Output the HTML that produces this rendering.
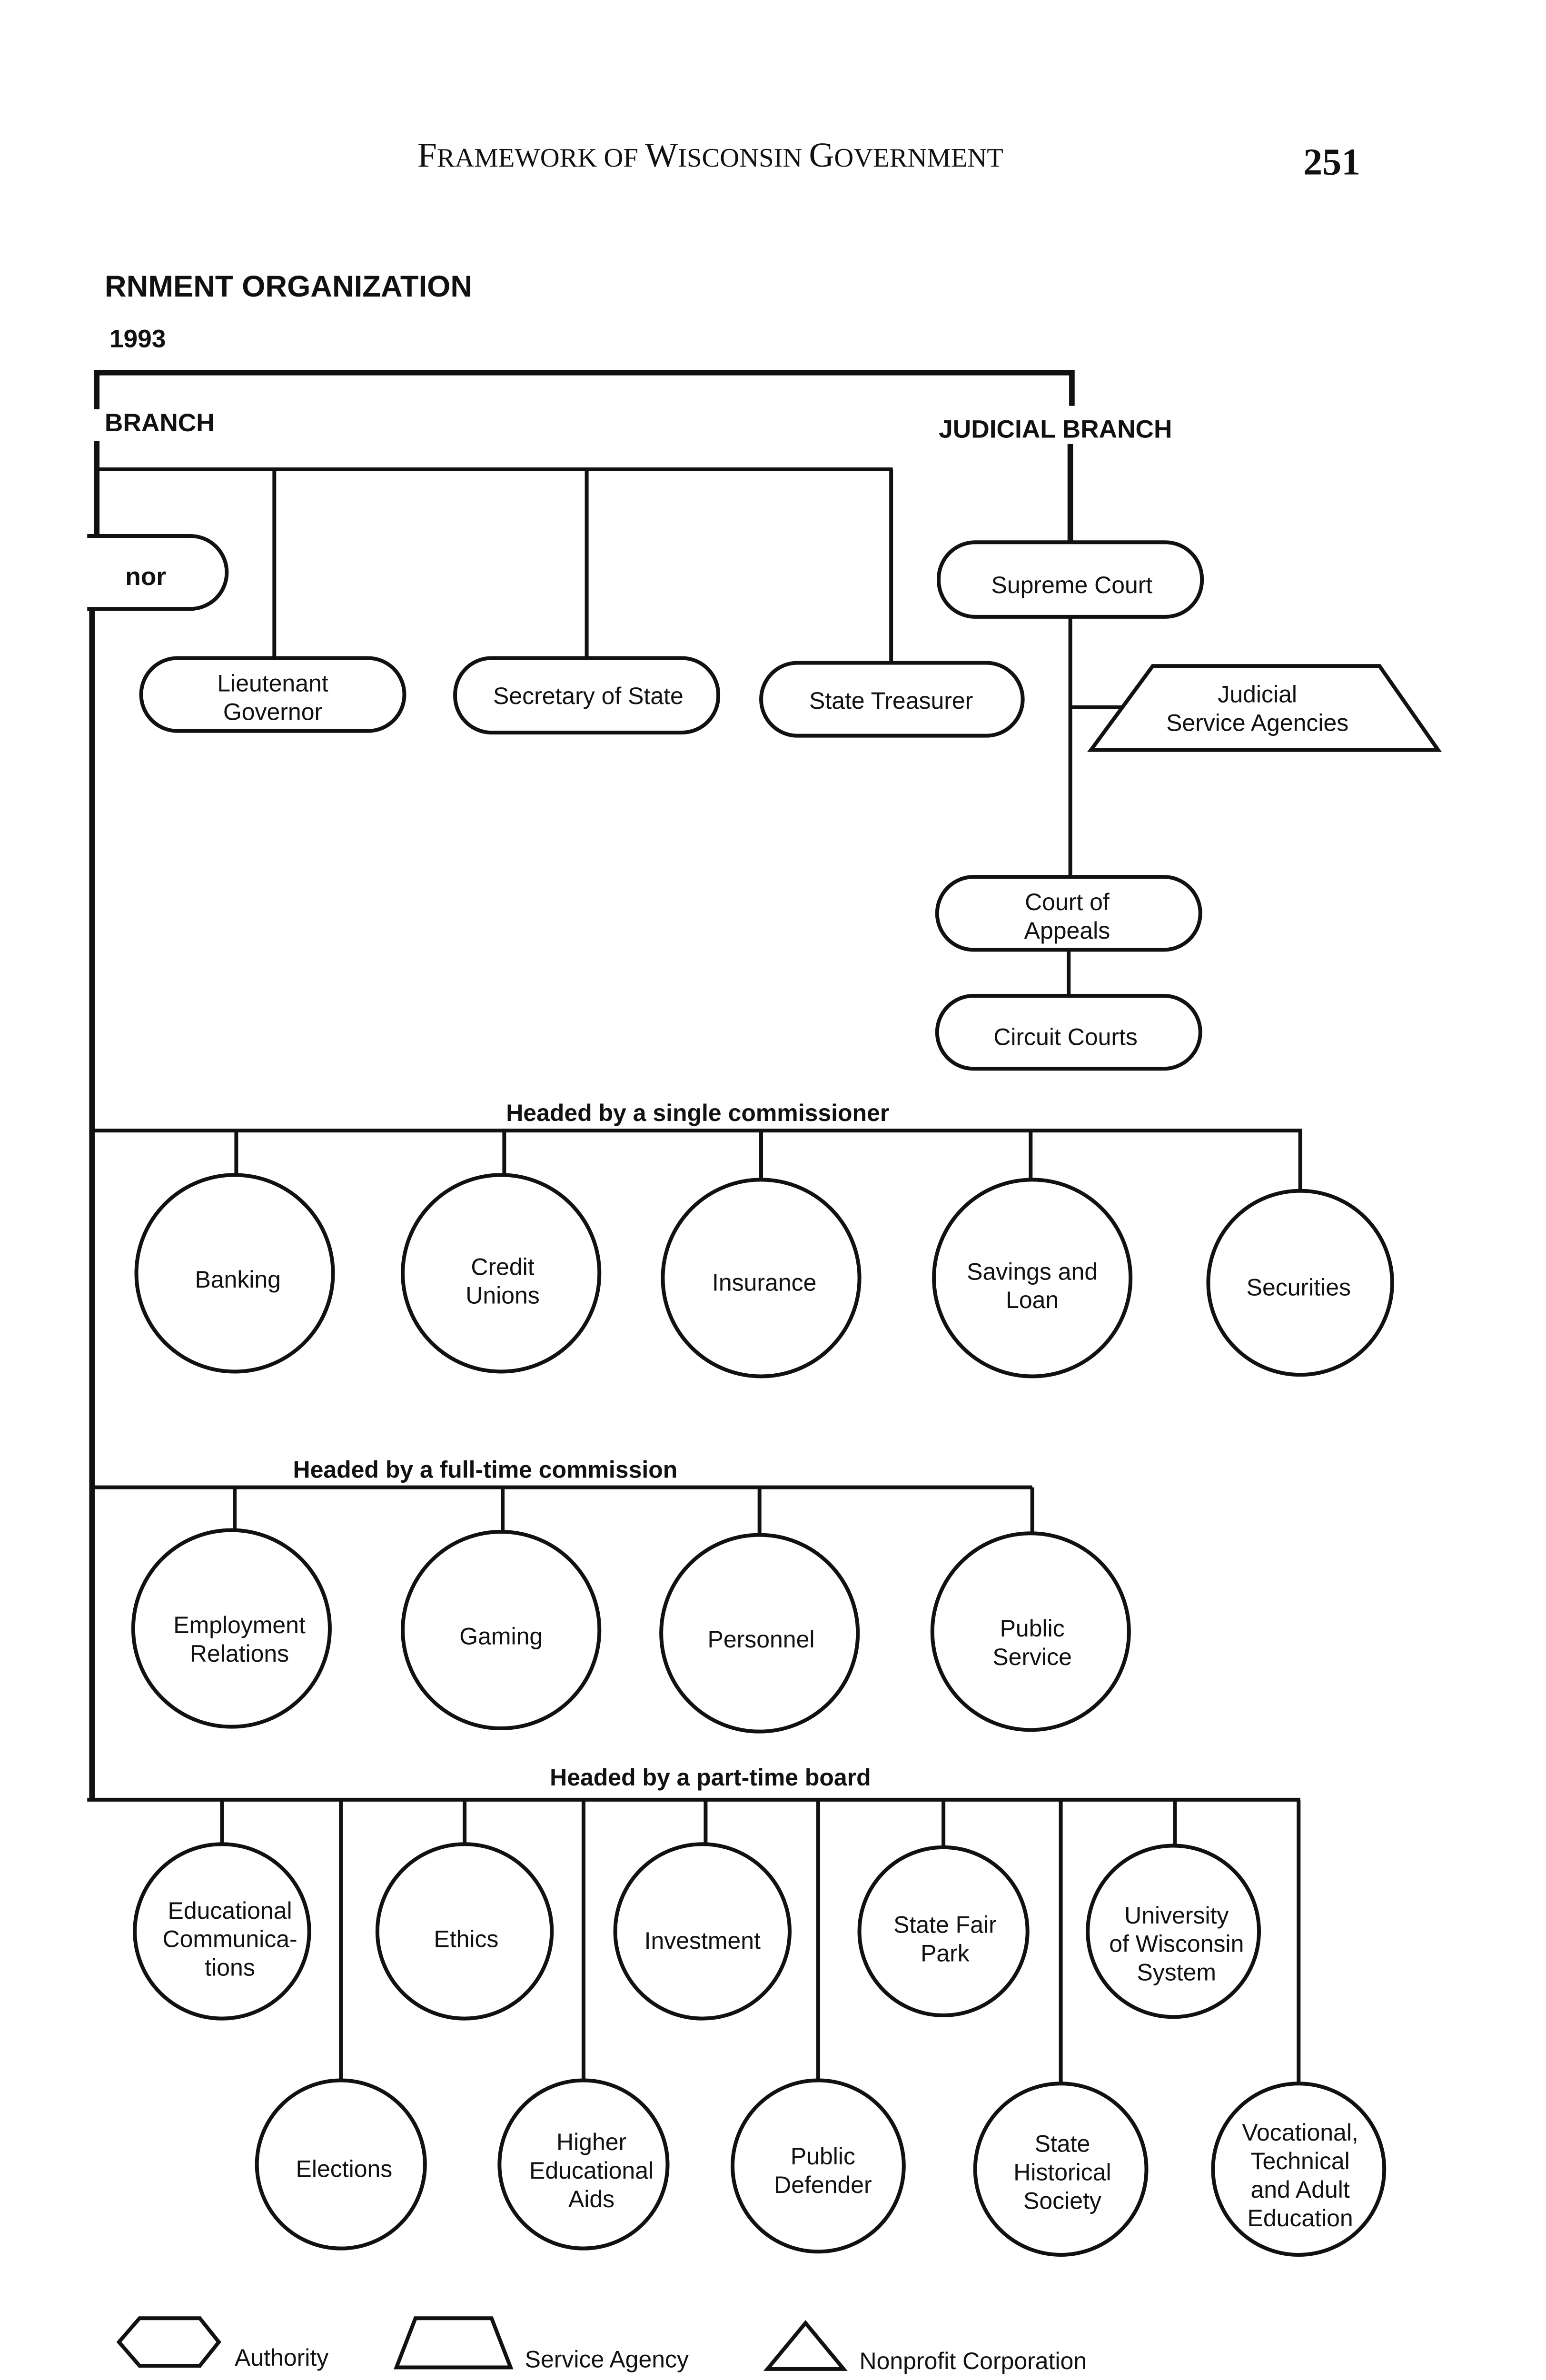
<!DOCTYPE html>
<html><head><meta charset="utf-8"><style>
html,body{margin:0;padding:0;background:#fff;width:3248px;height:5220px;overflow:hidden}
svg{display:block}
text{font-family:"Liberation Sans",sans-serif;fill:#111}
</style></head><body>
<svg width="3248" height="5220" viewBox="0 0 975 1567" xmlns="http://www.w3.org/2000/svg">
<rect width="975" height="1567" fill="#fff"/>
<text x="448" y="105" text-anchor="middle" style="font-family:'Liberation Serif',serif" font-size="22">F<tspan font-size="17">RAMEWORK OF </tspan>W<tspan font-size="17">ISCONSIN </tspan>G<tspan font-size="17">OVERNMENT</tspan></text>
<text x="840" y="110" text-anchor="middle" style="font-family:'Liberation Serif',serif" font-size="24" font-weight="bold">251</text>
<text x="66" y="187" font-size="19" font-weight="bold">RNMENT ORGANIZATION</text>
<text x="69" y="219" font-size="16" font-weight="bold">1993</text>
<text x="66" y="272" font-size="16" font-weight="bold">BRANCH</text>
<text x="592" y="276" font-size="16" font-weight="bold">JUDICIAL BRANCH</text>

<g fill="none" stroke="#111" stroke-width="3.5">
<polyline points="61,258 61,235 676,235 676,256"/>
<line x1="61" y1="278" x2="61" y2="338"/>
<line x1="675" y1="280" x2="675" y2="342"/>
<line x1="58" y1="384" x2="58" y2="1135"/>
</g>
<g fill="none" stroke="#111" stroke-width="2.4">
<line x1="60" y1="296" x2="563" y2="296"/>
<line x1="173" y1="296" x2="173" y2="415"/>
<line x1="370" y1="296" x2="370" y2="416"/>
<line x1="562" y1="296" x2="562" y2="418"/>
<path d="M55,338 H120 A23,23 0 0 1 120,384 H55"/>
<rect x="89" y="415" width="166" height="46" rx="23"/>
<rect x="287" y="415" width="166" height="47" rx="23"/>
<rect x="480" y="418" width="165" height="46" rx="23"/>
<rect x="592" y="342" width="166" height="47" rx="23"/>
<line x1="675" y1="389" x2="675" y2="553"/>
<line x1="675" y1="446" x2="708" y2="446"/>
<polygon points="727,420 870,420 907,473 688,473"/>
<rect x="591" y="553" width="166" height="46" rx="23"/>
<line x1="674" y1="599" x2="674" y2="628"/>
<rect x="591" y="628" width="166" height="46" rx="23"/>

<line x1="58" y1="713" x2="821" y2="713"/>
<line x1="149" y1="713" x2="149" y2="741"/>
<line x1="318" y1="713" x2="318" y2="741"/>
<line x1="480" y1="713" x2="480" y2="744"/>
<line x1="650" y1="713" x2="650" y2="744"/>
<line x1="820" y1="713" x2="820" y2="751"/>
<circle cx="148" cy="803" r="62"/>
<circle cx="316" cy="803" r="62"/>
<circle cx="480" cy="806" r="62"/>
<circle cx="651" cy="806" r="62"/>
<circle cx="820" cy="809" r="58"/>

<line x1="58" y1="938" x2="651" y2="938"/>
<line x1="148" y1="938" x2="148" y2="965"/>
<line x1="317" y1="938" x2="317" y2="966"/>
<line x1="479" y1="938" x2="479" y2="968"/>
<line x1="651" y1="938" x2="651" y2="967"/>
<circle cx="146" cy="1027" r="62"/>
<circle cx="316" cy="1028" r="62"/>
<circle cx="479" cy="1030" r="62"/>
<circle cx="650" cy="1029" r="62"/>

<line x1="55" y1="1135" x2="820" y2="1135"/>
<line x1="140" y1="1135" x2="140" y2="1163"/>
<line x1="293" y1="1135" x2="293" y2="1163"/>
<line x1="445" y1="1135" x2="445" y2="1163"/>
<line x1="595" y1="1135" x2="595" y2="1165"/>
<line x1="741" y1="1135" x2="741" y2="1164"/>
<line x1="215" y1="1135" x2="215" y2="1312"/>
<line x1="368" y1="1135" x2="368" y2="1312"/>
<line x1="516" y1="1135" x2="516" y2="1312"/>
<line x1="669" y1="1135" x2="669" y2="1314"/>
<line x1="819" y1="1135" x2="819" y2="1314"/>
<circle cx="140" cy="1218" r="55"/>
<circle cx="293" cy="1218" r="55"/>
<circle cx="443" cy="1218" r="55"/>
<circle cx="595" cy="1218" r="53"/>
<circle cx="740" cy="1218" r="54"/>
<circle cx="215" cy="1365" r="53"/>
<circle cx="368" cy="1365" r="53"/>
<circle cx="516" cy="1366" r="54"/>
<circle cx="669" cy="1368" r="54"/>
<circle cx="819" cy="1368" r="54"/>

<polygon points="75,1477 88,1462 126,1462 138,1477 126,1492 88,1492"/>
<polygon points="262,1462 310,1462 322,1493 250,1493"/>
<polygon points="508,1465 532,1494 484,1494"/>
</g>

<g font-size="15" text-anchor="middle">
<text x="79" y="369" text-anchor="start" font-weight="bold" font-size="16">nor</text>
<text x="172" y="436">Lieutenant</text><text x="172" y="454">Governor</text>
<text x="371" y="444">Secretary of State</text>
<text x="562" y="447">State Treasurer</text>
<text x="676" y="374">Supreme Court</text>
<text x="793" y="443">Judicial</text><text x="793" y="461">Service Agencies</text>
<text x="673" y="574">Court of</text><text x="673" y="592">Appeals</text>
<text x="672" y="659">Circuit Courts</text>

<text x="440" y="707" font-weight="bold">Headed by a single commissioner</text>
<text x="150" y="812">Banking</text>
<text x="317" y="804">Credit</text><text x="317" y="822">Unions</text>
<text x="482" y="814">Insurance</text>
<text x="651" y="807">Savings and</text><text x="651" y="825">Loan</text>
<text x="819" y="817">Securities</text>

<text x="306" y="932" font-weight="bold">Headed by a full-time commission</text>
<text x="151" y="1030">Employment</text><text x="151" y="1048">Relations</text>
<text x="316" y="1037">Gaming</text>
<text x="480" y="1039">Personnel</text>
<text x="651" y="1032">Public</text><text x="651" y="1050">Service</text>

<text x="448" y="1126" font-weight="bold">Headed by a part-time board</text>
<text x="145" y="1210">Educational</text><text x="145" y="1228">Communica-</text><text x="145" y="1246">tions</text>
<text x="294" y="1228">Ethics</text>
<text x="443" y="1229">Investment</text>
<text x="596" y="1219">State Fair</text><text x="596" y="1237">Park</text>
<text x="742" y="1213">University</text><text x="742" y="1231">of Wisconsin</text><text x="742" y="1249">System</text>
<text x="217" y="1373">Elections</text>
<text x="373" y="1356">Higher</text><text x="373" y="1374">Educational</text><text x="373" y="1392">Aids</text>
<text x="519" y="1365">Public</text><text x="519" y="1383">Defender</text>
<text x="670" y="1357">State</text><text x="670" y="1375">Historical</text><text x="670" y="1393">Society</text>
<text x="820" y="1350">Vocational,</text><text x="820" y="1368">Technical</text><text x="820" y="1386">and Adult</text><text x="820" y="1404">Education</text>

<text x="148" y="1492" text-anchor="start">Authority</text>
<text x="331" y="1493" text-anchor="start">Service Agency</text>
<text x="542" y="1494" text-anchor="start">Nonprofit Corporation</text>
</g>
</svg>
</body></html>
